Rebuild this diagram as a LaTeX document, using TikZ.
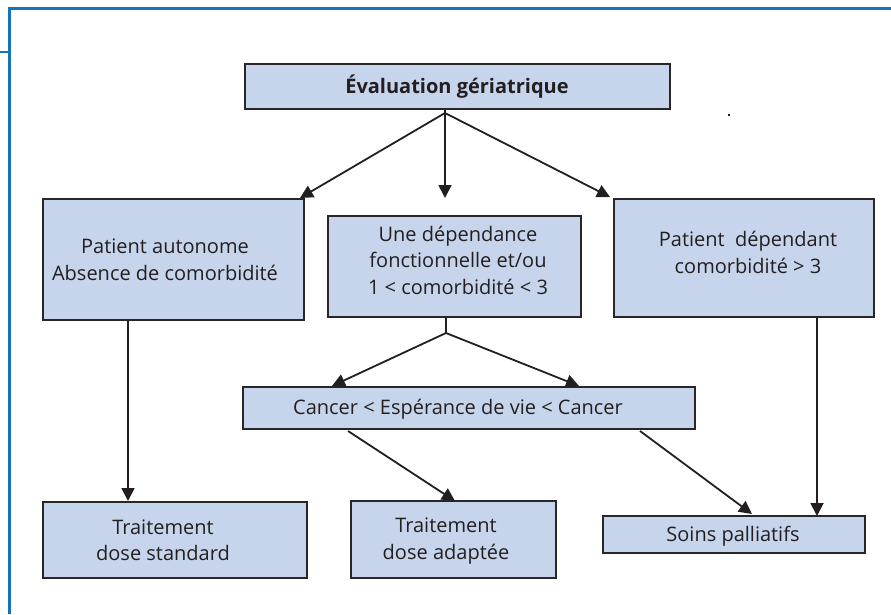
\documentclass[tikz,border=0pt]{standalone}
\usepackage{fontspec}
\setmainfont{Open Sans}
\usetikzlibrary{arrows.meta}
\definecolor{boxfill}{RGB}{198,213,236}
\definecolor{boxline}{RGB}{40,38,40}
\definecolor{frameblue}{RGB}{20,116,188}
\definecolor{txt}{RGB}{35,31,32}
\tikzset{
  box/.style={draw=boxline, line width=2pt, fill=boxfill, inner sep=0pt},
  lbl/.style={text=txt, align=center, inner sep=0pt, font=\fontsize{20}{26.5}\selectfont},
  arr/.style={draw=txt, line width=1.8pt, -{Triangle[length=13pt,width=13pt]}},
  ln/.style={draw=txt, line width=1.8pt},
  frame/.style={draw=frameblue, line width=2.6pt}
}
\begin{document}
\begin{tikzpicture}[x=1pt,y=-1pt]
\useasboundingbox (0,0) rectangle (891,614);
% frame
\draw[frame] (891,8.5) -- (9.2,8.5) -- (9.2,614);
\draw[frame] (0,52) -- (9.2,52);
\fill[txt] (728,114) rectangle (730,116);
% boxes
\node[box, minimum width=425pt, minimum height=45pt] (top) at (457.5,86.5) {};
\node[box, minimum width=261pt, minimum height=121pt] (pa) at (173.5,259.5) {};
\node[box, minimum width=253pt, minimum height=101pt] (dep) at (454.5,266.5) {};
\node[box, minimum width=260pt, minimum height=118pt] (pd) at (744,258) {};
\node[box, minimum width=452pt, minimum height=42pt] (can) at (469,408) {};
\node[box, minimum width=264pt, minimum height=76pt] (tds) at (175,540) {};
\node[box, minimum width=205pt, minimum height=77pt] (tda) at (453.5,539.5) {};
\node[box, minimum width=262pt, minimum height=37pt] (sp) at (734,534.5) {};
% texts
\node[lbl, font=\fontsize{20}{26}\selectfont\bfseries] (ttop) at (457,87) {Évaluation gériatrique};
\node[lbl] (tpa) at (165,260) {Patient autonome\\Absence de comorbidité};
\node[lbl] (tdep) at (458,260) {Une dépendance\\fonctionnelle et/ou\\1 < comorbidité < 3};
\node[lbl] (tpd) at (748,252.5) {Patient\ \ dépendant\\comorbidité > 3};
\node[lbl] (tcan) at (458,409.5) {Cancer < Espérance de vie < Cancer};
\node[lbl] (ttds) at (163,540) {Traitement\\dose standard};
\node[lbl] (ttda) at (446,541) {Traitement\\dose adaptée};
\node[lbl] (tsp) at (733,536) {Soins palliatifs};
% connector points
\coordinate (apex) at (445,113);
\coordinate (e1) at (300,198);
\coordinate (e2) at (445,198);
\coordinate (e3) at (610,197);
\coordinate (d0) at (446,317);
\coordinate (d1) at (446,333);
\coordinate (c1) at (332,386);
\coordinate (c2) at (579,386);
\coordinate (s1) at (128,320);
\coordinate (s2) at (128,501);
\coordinate (r1) at (817,317);
\coordinate (r2) at (817,516);
\coordinate (k1) at (348,431);
\coordinate (k2) at (455,501);
\coordinate (k3) at (640,431);
\coordinate (k4) at (752,514);
% connectors
\draw[ln] (top.south -| apex) -- (apex);
\draw[arr] (apex) -- (e1);
\draw[arr] (apex) -- (e2);
\draw[arr] (apex) -- (e3);
\draw[ln] (d0) -- (d1);
\draw[arr] (d1) -- (c1);
\draw[arr] (d1) -- (c2);
\draw[arr] (s1) -- (s2);
\draw[arr] (r1) -- (r2);
\draw[arr] (k1) -- (k2);
\draw[arr] (k3) -- (k4);
\end{tikzpicture}
\end{document}
